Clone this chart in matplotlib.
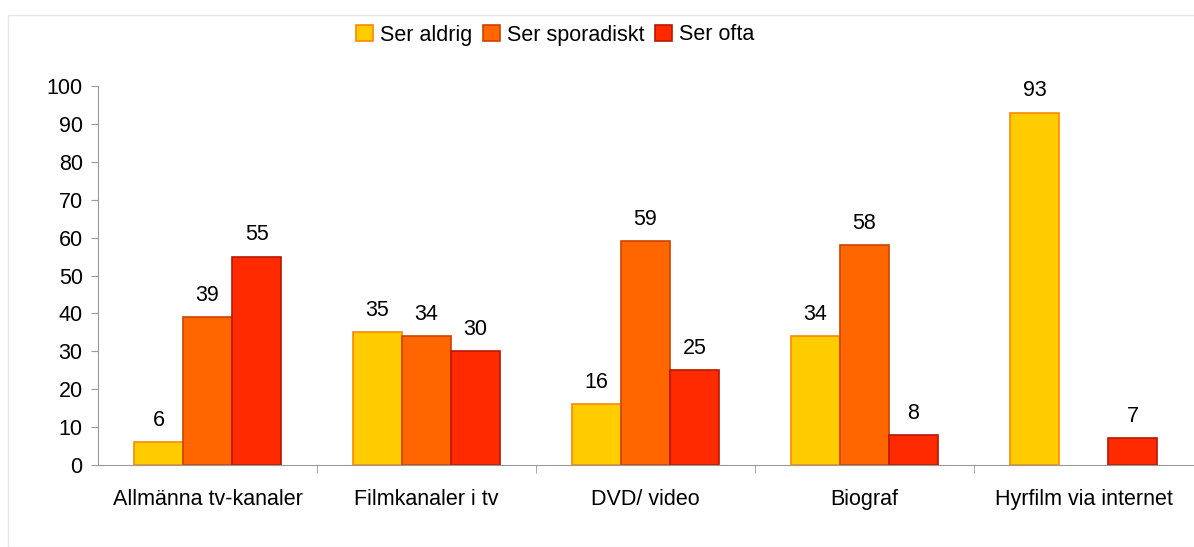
import numpy as np
import matplotlib
matplotlib.use('Agg')
from matplotlib import pyplot as plt
from matplotlib.patches import Rectangle

categories = ['Allmänna tv-kanaler', 'Filmkanaler i tv', 'DVD/ video', 'Biograf', 'Hyrfilm via internet']
series_names = ['Ser aldrig', 'Ser sporadiskt', 'Ser ofta']
ser_aldrig = [6, 35, 16, 34, 93]
ser_sporadiskt = [39, 34, 59, 58, None]
ser_ofta = [55, 30, 25, 8, 7]

colors = ['#FFCC00', '#FF6600', '#FF2A00']
edges = ['#FF8800', '#CC4400', '#B81800']

plt.rcParams['font.family'] = ['Liberation Sans', 'DejaVu Sans']

fig = plt.figure(figsize=(11.94, 5.47), dpi=100)
fig.patches.append(Rectangle((8 / 1194, 0.0), 1.0, 1 - 15 / 547, transform=fig.transFigure,
                             fill=False, edgecolor='#e6e6e6', linewidth=1))
ax = fig.add_axes([98 / 1194, 82 / 547, 1095 / 1194, 379 / 547])

x = np.arange(len(categories))
w = 0.224
for i, vals in enumerate([ser_aldrig, ser_sporadiskt, ser_ofta]):
    xs = [xx + (i - 1) * w for xx, v in zip(x, vals) if v is not None]
    vs = [v for v in vals if v is not None]
    ax.bar(xs, vs, width=w, color=colors[i], edgecolor=edges[i], linewidth=1.2,
           label=series_names[i])
    for xx, v in zip(xs, vs):
        ax.annotate(str(v), (xx, v), xytext=(0, 8), textcoords='offset points',
                    ha='center', va='bottom', fontsize=15.5)

ax.set_xlim(-0.5, len(categories) - 0.5)
ax.set_ylim(0, 100)
ax.set_yticks(range(0, 101, 10))
ax.set_xticks(x)
ax.set_xticklabels(categories, fontsize=15.5)
ax.set_xticks(np.arange(0.5, len(categories) - 0.5, 1), minor=True)
ax.tick_params(axis='x', which='major', length=0, pad=17)
ax.tick_params(axis='x', which='minor', length=6, color='#999999')
ax.tick_params(axis='y', labelsize=15.5, length=5, color='#999999', pad=6)
for s in ['top', 'right']:
    ax.spines[s].set_visible(False)
for s in ['left', 'bottom']:
    ax.spines[s].set_color('#999999')

fig.legend(loc='center', bbox_to_anchor=(555 / 1194, 1 - 35 / 547), ncol=3, frameon=False,
           fontsize=15.5, handlelength=0.8, handleheight=0.8, handletextpad=0.3,
           columnspacing=0.5)

plt.savefig('out.png', dpi=100)
